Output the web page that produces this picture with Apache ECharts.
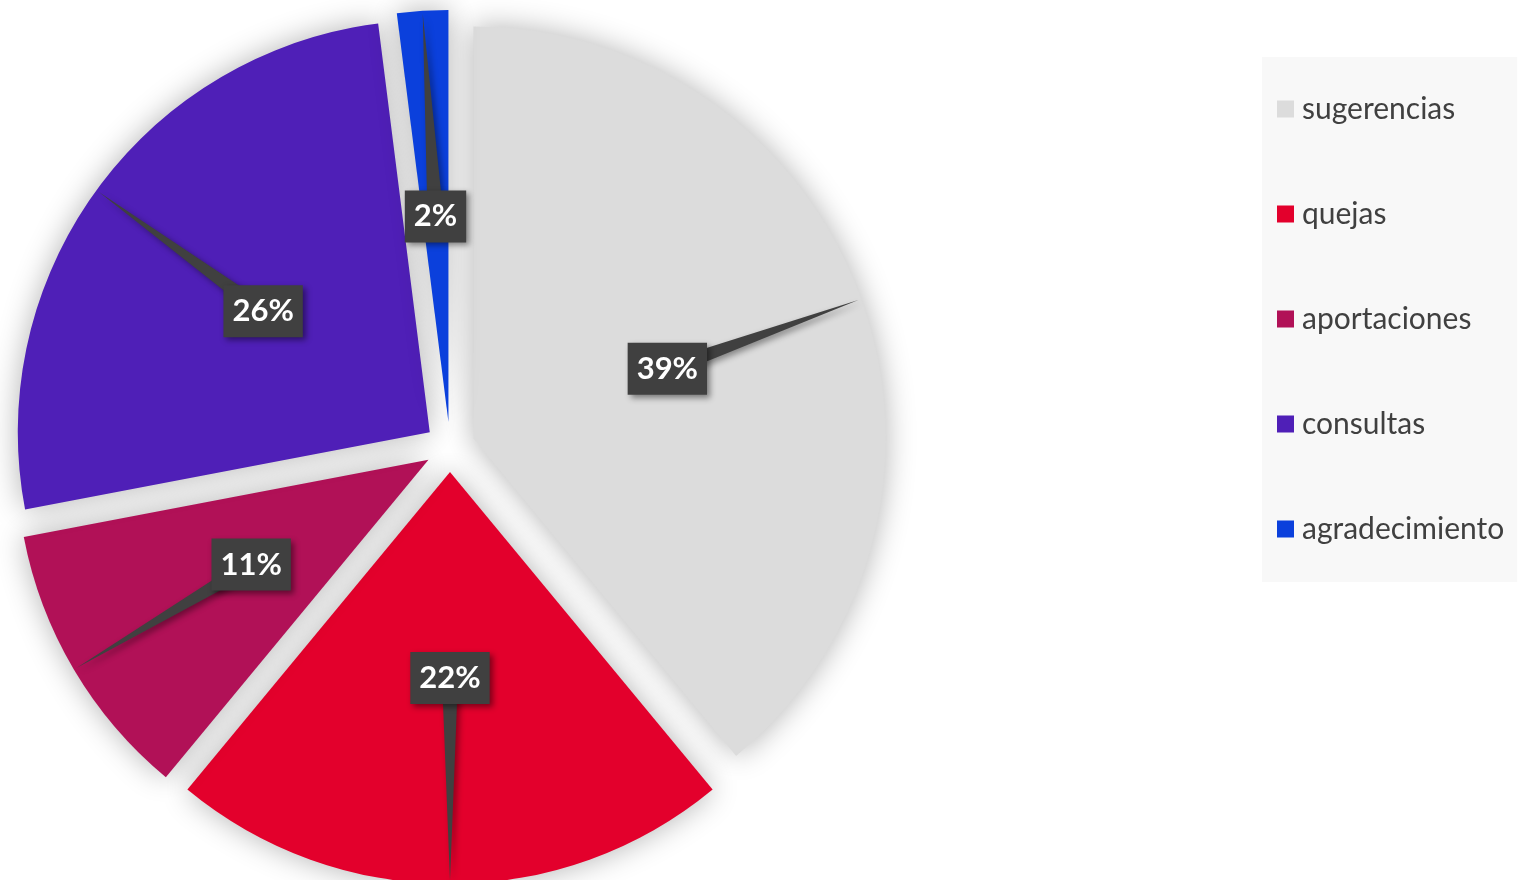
<!DOCTYPE html>
<html>
<head>
<meta charset="utf-8">
<script src="https://cdn.jsdelivr.net/npm/echarts@6/dist/echarts.min.js"></script>
<style>
  html, body { margin: 0; padding: 0; background: #ffffff; }
  #chart { width: 1518px; height: 880px; }
</style>
</head>
<body>
<div id="chart"></div>
<script>
// Categories and their shares (percent)
const categories = ['sugerencias', 'quejas', 'aportaciones', 'consultas', 'agradecimiento'];
const values = [39, 22, 11, 26, 2];
const colors = ['#dcdcdc', '#e3002c', '#b11157', '#4f1fb7', '#0b40dc'];

const FONT = 'Lato, "Open Sans", sans-serif';
const EXPLODE = 25;          // distance each slice is pulled out
const CENTER = [450, 447];
const RADIUS = 412;

const pieData = categories.map((name, i) => ({
  name: name,
  value: values[i],
  selected: true,
  itemStyle: { color: colors[i] }
}));

const chart = echarts.init(document.getElementById('chart'), null, { renderer: 'canvas' });

const sliceShadow = { shadowColor: 'rgba(0,0,0,0.3)', shadowBlur: 30 };

chart.setOption({
  animation: false,
  legend: {
    orient: 'vertical',
    left: 1262,
    top: 57,
    data: categories,
    icon: 'rect',
    itemWidth: 17,
    itemHeight: 17,
    itemGap: 75,
    backgroundColor: '#f8f8f8',
    padding: [37, 13, 38, 15],
    selectedMode: false,
    textStyle: {
      fontFamily: FONT,
      fontSize: 30,
      color: '#404040',
      lineHeight: 30,
      padding: [0, 0, 0, 3]
    }
  },
  series: [{
    type: 'pie',
    center: CENTER,
    radius: RADIUS,
    startAngle: 90,
    clockwise: true,
    selectedMode: 'multiple',
    selectedOffset: EXPLODE,
    avoidLabelOverlap: false,
    itemStyle: sliceShadow,
    label: { show: false },
    labelLine: { show: false },
    emphasis: { disabled: true },
    select: { itemStyle: sliceShadow },
    data: pieData,
    z: 2
  }]
});

// Callout labels: a dark box at half radius on each slice's bisector,
// with a tapered pointer running out to the slice's outer arc.
// Everything is derived from the pie's own computed layout.
const seriesModel = chart.getModel().getSeriesByIndex(0);
const seriesData = seriesModel.getData();
const callouts = [];
seriesData.each(function (i) {
  const l = seriesData.getItemLayout(i);
  const mid = (l.startAngle + l.endAngle) / 2;
  const ux = Math.cos(mid), uy = Math.sin(mid);
  const cx = l.cx + ux * EXPLODE, cy = l.cy + uy * EXPLODE;
  const rl = (l.r + (l.r0 || 0)) / 2;
  const lx = cx + ux * rl, ly = cy + uy * rl;
  const tx = cx + ux * (l.r - 3), ty = cy + uy * (l.r - 3);
  const px = -uy, py = ux;
  const hw = 8;
  callouts.push({
    type: 'polygon',
    z: 5,
    silent: true,
    shape: { points: [[lx + px * hw, ly + py * hw], [lx - px * hw, ly - py * hw], [tx, ty]] },
    style: {
      fill: '#404040',
      shadowColor: 'rgba(0,0,0,0.4)',
      shadowBlur: 6,
      shadowOffsetX: 3,
      shadowOffsetY: 3
    }
  });
  const pct = Math.round(seriesModel.getDataParams(i).percent);
  callouts.push({
    type: 'text',
    z: 6,
    silent: true,
    x: lx,
    y: ly,
    style: {
      text: pct + '%',
      fill: '#ffffff',
      font: 'bold 31px ' + FONT,
      align: 'center',
      verticalAlign: 'middle',
      lineHeight: 37,
      backgroundColor: '#404040',
      padding: [8, 9, 7, 9],
      shadowColor: 'rgba(0,0,0,0.45)',
      shadowBlur: 6,
      shadowOffsetX: 3,
      shadowOffsetY: 3
    }
  });
});
chart.setOption({ graphic: callouts });
</script>
</body>
</html>
